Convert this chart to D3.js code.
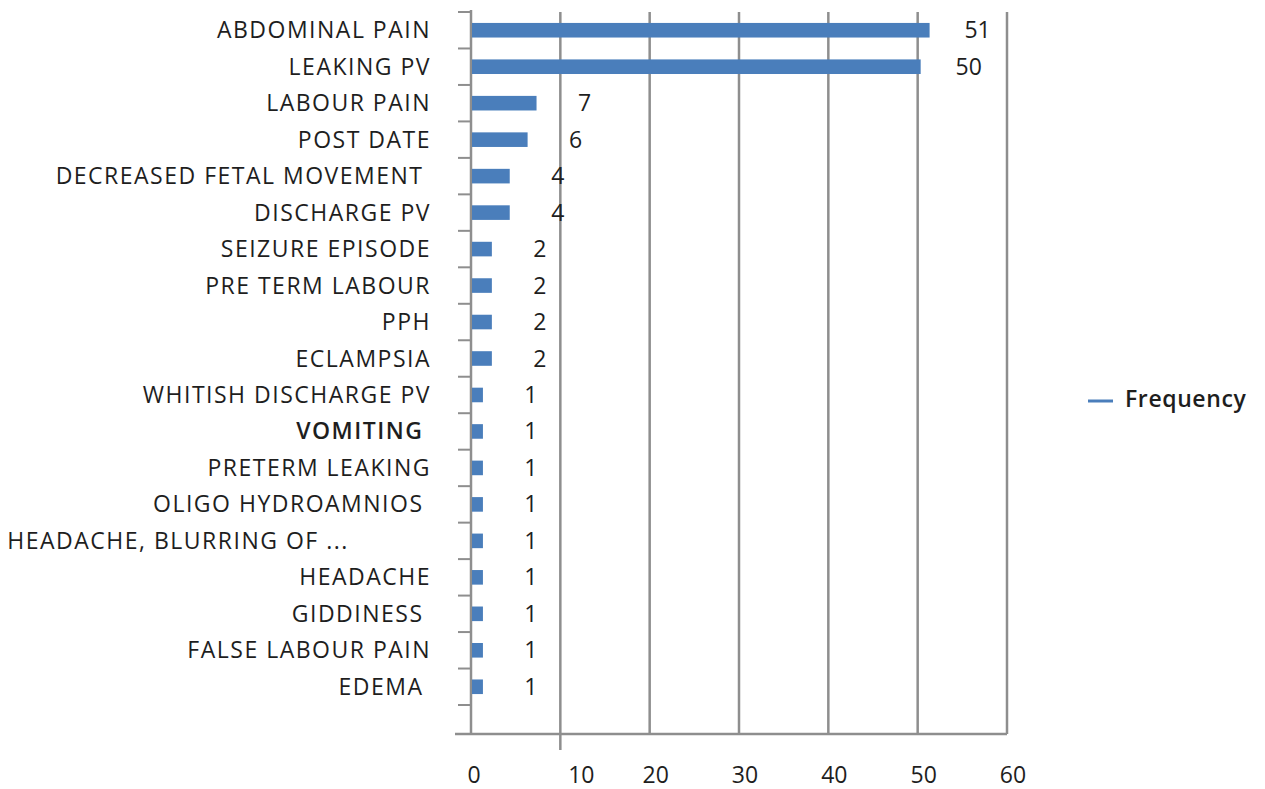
<!DOCTYPE html>
<html>
<head>
<meta charset="utf-8">
<script src="https://cdn.jsdelivr.net/npm/d3@7"></script>
<style>
  html, body { margin: 0; padding: 0; background: #fff; }
  svg { display: block; }
  text { font-family: "Open Sans", "Noto Sans", sans-serif; fill: #1e1e1e; white-space: pre; }
</style>
</head>
<body>
<svg id="chart" width="1265" height="789"></svg>
<script>
const categories = [
  "ABDOMINAL PAIN",
  "LEAKING PV",
  "LABOUR PAIN",
  "POST DATE",
  "DECREASED FETAL MOVEMENT ",
  "DISCHARGE PV",
  "SEIZURE EPISODE",
  "PRE TERM LABOUR",
  "PPH",
  "ECLAMPSIA",
  "WHITISH DISCHARGE PV",
  "VOMITING ",
  "PRETERM LEAKING",
  "OLIGO HYDROAMNIOS ",
  "HEADACHE, BLURRING OF ...           ",
  "HEADACHE",
  "GIDDINESS ",
  "FALSE LABOUR PAIN",
  "EDEMA "
];
const frequency = [51, 50, 7, 6, 4, 4, 2, 2, 2, 2, 1, 1, 1, 1, 1, 1, 1, 1, 1];
const xTicks = [0, 10, 20, 30, 40, 50, 60];
const seriesName = "Frequency";
const boldCategories = ["VOMITING "];

const svg = d3.select("#chart");
const barColor = "#4a7ebb";
const gridColor = "#8e8e8e";
const fs = 23;

const x = d3.scaleLinear().domain([0, 60]).range([471, 1007]);
const y = d3.scaleBand().domain(categories).range([12, 705])
  .paddingInner(0.6).paddingOuter(0.3);
const axisY = 734;

// vertical gridlines
svg.append("g").selectAll("line")
  .data(xTicks.filter(d => d > 0))
  .join("line")
  .attr("x1", d => x(d)).attr("x2", d => x(d))
  .attr("y1", 12)
  .attr("y2", d => d === 10 ? 750 : axisY)
  .attr("stroke", gridColor).attr("stroke-width", 2.5);

// x axis line
svg.append("line")
  .attr("x1", 455).attr("x2", x(60))
  .attr("y1", axisY).attr("y2", axisY)
  .attr("stroke", gridColor).attr("stroke-width", 2.5);

// y axis line
svg.append("line")
  .attr("x1", x(0)).attr("x2", x(0))
  .attr("y1", 10).attr("y2", axisY)
  .attr("stroke", gridColor).attr("stroke-width", 2.5);

// y ticks at category boundaries
const step = y.step();
const boundaries = d3.range(categories.length + 1).map(i => y.range()[0] + i * step);
svg.append("g").selectAll("line")
  .data(boundaries)
  .join("line")
  .attr("x1", x(0) - 13).attr("x2", x(0))
  .attr("y1", d => d).attr("y2", d => d)
  .attr("stroke", gridColor).attr("stroke-width", 2);

const rows = categories.map((c, i) => ({c, v: frequency[i]}));

// bars
svg.append("g").selectAll("rect")
  .data(rows)
  .join("rect")
  .attr("x", x(0) + 1)
  .attr("y", d => y(d.c))
  .attr("width", d => x(d.v) - x(0) + 2)
  .attr("height", y.bandwidth())
  .attr("fill", barColor);

// value labels
svg.append("g").selectAll("text")
  .data(rows)
  .join("text")
  .attr("x", d => x(d.v) + 51)
  .attr("y", d => y(d.c) + y.bandwidth() / 2)
  .attr("dy", "0.35em")
  .attr("text-anchor", "middle")
  .attr("font-size", fs)
  .text(d => d.v);

// category labels
svg.append("g").selectAll("text")
  .data(categories)
  .join("text")
  .attr("x", 431)
  .attr("y", d => y(d) + y.bandwidth() / 2)
  .attr("dy", "0.35em")
  .attr("text-anchor", "end")
  .attr("font-size", fs)
  .attr("letter-spacing", 1.5)
  .attr("font-weight", d => boldCategories.includes(d) ? 600 : 400)
  .text(d => d);

// x tick labels
svg.append("g").selectAll("text")
  .data(xTicks)
  .join("text")
  .attr("x", d => x(d) + (d === 10 ? 21 : (d === 0 ? 3 : 6)))
  .attr("y", 775)
  .attr("dy", "0.35em")
  .attr("text-anchor", "middle")
  .attr("font-size", fs)
  .text(d => d);

// legend
const lg = svg.append("g");
lg.append("line")
  .attr("x1", 1088).attr("x2", 1113)
  .attr("y1", 401).attr("y2", 401)
  .attr("stroke", barColor).attr("stroke-width", 3);
lg.append("text")
  .attr("x", 1125).attr("y", 399)
  .attr("dy", "0.35em")
  .attr("font-size", fs)
  .attr("font-weight", 600)
  .attr("letter-spacing", 0.6)
  .text(seriesName);
</script>
</body>
</html>
